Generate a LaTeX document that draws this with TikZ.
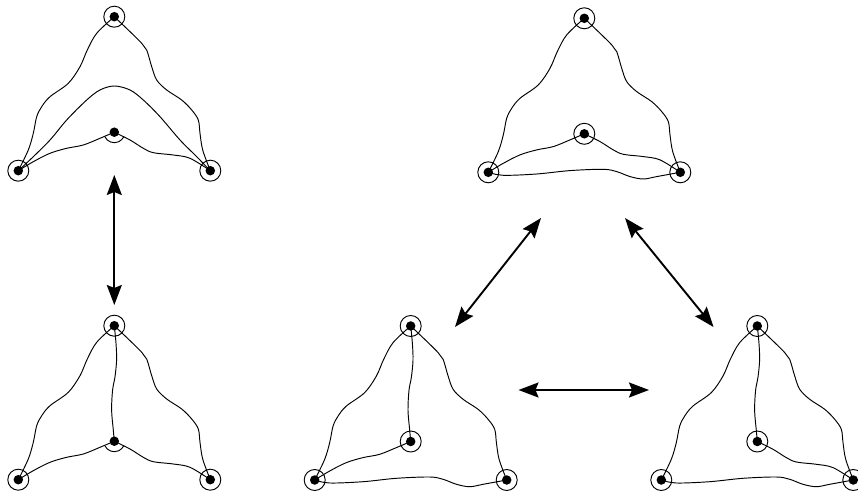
\documentclass[tikz,border=0pt]{standalone}
\usetikzlibrary{arrows.meta}
\tikzset{
 edge/.style={line width=0.95pt},
 ring/.style={line width=0.95pt},
 dotv/.style={circle,fill=black,inner sep=0pt,minimum size=9.5pt},
 dbl/.style={line width=1.9pt,{Stealth[length=20pt,width=15pt,inset=3pt]}-{Stealth[length=20pt,width=15pt,inset=3pt]}},
}
\newcommand\verts[1]{%
 \node[dotv] (#1T) at (0,0) {};
 \node[dotv] (#1L) at (-96,-154) {};
 \node[dotv] (#1R) at (96,-154) {};
 \node[dotv] (#1C) at (0,-115.5) {};
 \draw[ring] (#1T.center) circle[radius=10.5pt];
 \draw[ring] (#1L.center) circle[radius=10.5pt];
 \draw[ring] (#1R.center) circle[radius=10.5pt];}
\newcommand\OL[1]{\draw[edge] plot[smooth,tension=0.55] coordinates {(#1T) (-17.6,-16.6) (-27,-33.3) (-34.3,-50) (-46,-66.6) (-64.3,-80) (-72.6,-90) (-77.6,-100) (-81,-116.6) (-86,-133.3) (#1L)};}
\newcommand\OR[1]{\draw[edge] plot[smooth,tension=0.55] coordinates {(#1T) (17.4,-16.6) (27.4,-26.6) (32.4,-33.3) (37.4,-50) (42.4,-63.3) (52.4,-73.3) (67.4,-83.3) (77.4,-93.3) (84,-103.3) (85.7,-116.6) (88.4,-133.3) (#1R)};}
\newcommand\ARCH[1]{\draw[edge] plot[smooth,tension=0.55] coordinates {(#1L) (-81,-140) (-64,-123) (-47.6,-103.3) (-27.6,-83.3) (-14.3,-73.3) (0,-69.3) (15.7,-73.3) (29,-83.3) (45.7,-100) (65.7,-123.3) (82.4,-140) (#1R)};}
\newcommand\LC[1]{\draw[edge] plot[smooth,tension=0.55] coordinates {(#1L) (-81,-145) (-64.3,-136.6) (-47.6,-131.6) (-31,-128.3) (-14.3,-121.6) (#1C)};}
\newcommand\CR[1]{\draw[edge] plot[smooth,tension=0.55] coordinates {(#1C) (15.7,-123.3) (29,-131.6) (39,-136) (59,-138.3) (75.7,-141.6) (#1R)};}
\newcommand\TC[1]{\draw[edge] plot[smooth,tension=0.55] coordinates {(#1T) (1.7,-17.6) (2.3,-34.3) (0.7,-51) (-1.7,-64.3) (-2.7,-84.3) (-1,-104.3) (#1C)};}
\newcommand\LR[1]{\draw[edge] plot[smooth,tension=0.55] coordinates {(#1L) (-81,-157) (-47.6,-155.7) (-14.3,-152.3) (19,-151) (32.4,-153.3) (45.7,-158.3) (59,-160.7) (72.4,-158.3) (#1R)};}
\newcommand\halfring[1]{\draw[ring] ([shift={(205:10.5pt)}]#1C.center) arc[start angle=205,end angle=335,radius=10.5pt];}
\newcommand\fullring[1]{\draw[ring] (#1C.center) circle[radius=10.5pt];}
\begin{document}
\begin{tikzpicture}[x=1pt,y=1pt]
\useasboundingbox (0,0) rectangle (858,492);
% triangle 1
\begin{scope}[shift={(114.3,475.3)}]
 \verts{a} \halfring{a}
 \OL{a} \OR{a} \ARCH{a} \LC{a} \CR{a}
\end{scope}
% triangle 2
\begin{scope}[shift={(114.3,166.3)}]
 \verts{b} \halfring{b}
 \OL{b} \OR{b} \TC{b} \LC{b} \CR{b}
\end{scope}
% triangle 3
\begin{scope}[shift={(584.3,473.7)}]
 \verts{c} \fullring{c}
 \OL{c} \OR{c} \LC{c} \CR{c} \LR{c}
\end{scope}
% triangle 4
\begin{scope}[shift={(410.7,166)}]
 \verts{d} \fullring{d}
 \OL{d} \OR{d} \TC{d} \LC{d} \LR{d}
\end{scope}
% triangle 5
\begin{scope}[shift={(757.3,166)}]
 \verts{e} \fullring{e}
 \OL{e} \OR{e} \TC{e} \CR{e} \LR{e}
\end{scope}
% arrows
\coordinate (p1) at (114.3,317);
\coordinate (p2) at (114.3,187);
\coordinate (q1) at (541,274);
\coordinate (q2) at (455,165);
\coordinate (r1) at (625,274);
\coordinate (r2) at (713.5,165);
\coordinate (s1) at (518.5,102);
\coordinate (s2) at (649,102);
\draw[dbl] (p1) -- (p2);
\draw[dbl] (q1) -- (q2);
\draw[dbl] (r1) -- (r2);
\draw[dbl] (s1) -- (s2);
\end{tikzpicture}
\end{document}
